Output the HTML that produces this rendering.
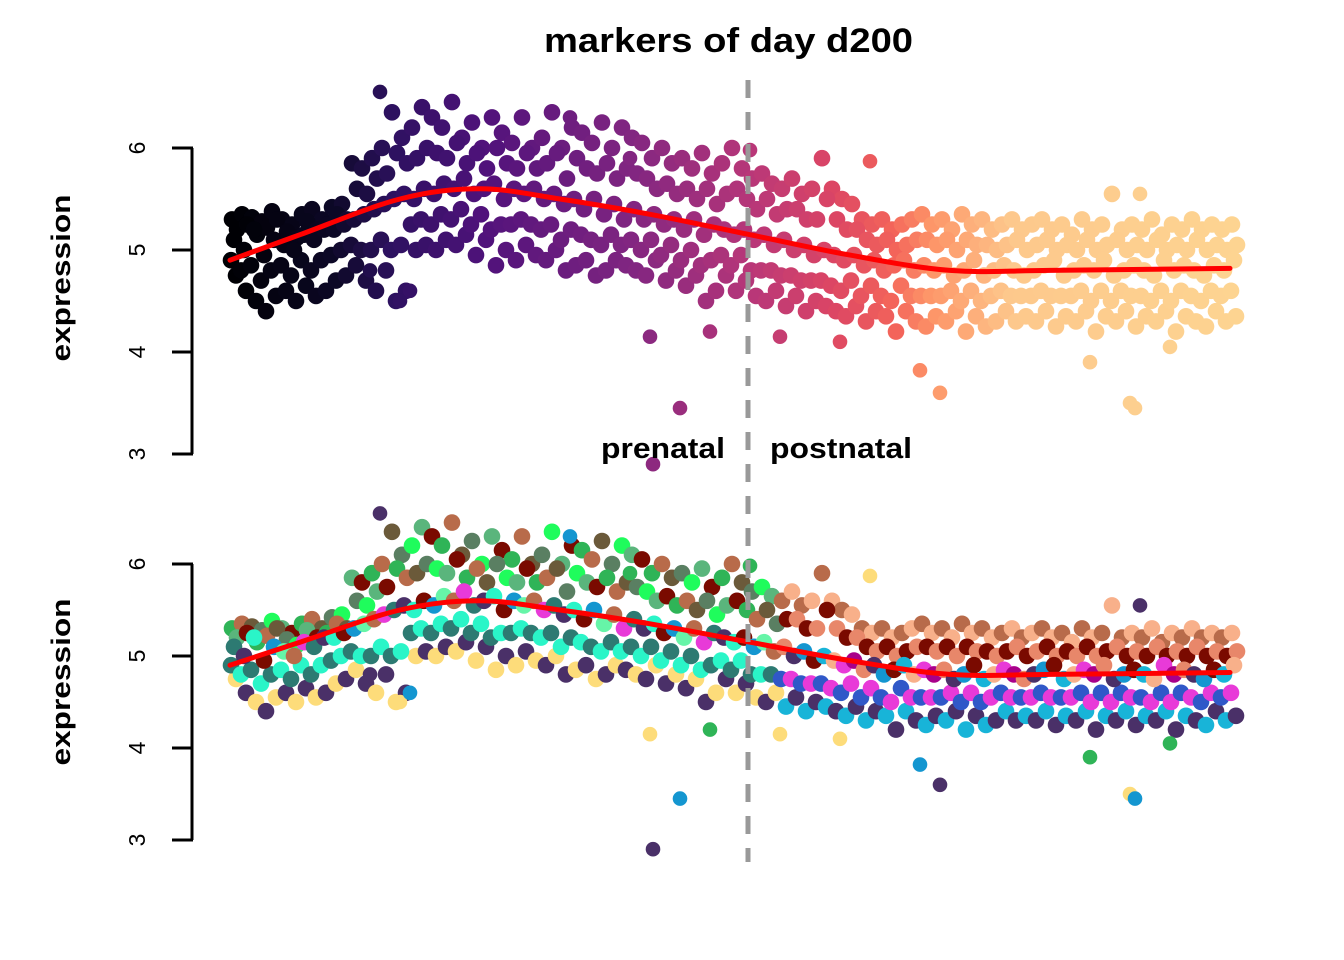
<!DOCTYPE html>
<html><head><meta charset="utf-8"><style>
html,body{margin:0;padding:0;background:#fff;}
svg{display:block;font-family:"Liberation Sans",Arial,sans-serif;}
</style></head><body>
<svg id="chart" width="1344" height="960"></svg>
<script>
const tHi=[5.3,5.35,5.32,5.28,5.38,5.3,5.25,5.35,5.4,5.3,5.42,5.45,5.85,5.8,5.9,6.0,6.35,6.1,6.2,6.4,6.3,6.2,6.45,6.1,6.25,6.0,6.3,6.15,6.05,6.3,6.0,6.1,6.35,6.0,6.2,6.15,6.05,6.25,6.0,6.2,6.1,6.05,5.9,6.0,5.85,5.9,5.8,5.95,5.75,5.85,6.0,5.8,5.7,5.75,5.65,5.6,5.7,5.55,5.6,5.9,5.6,5.5,5.45,5.3,5.25,5.3,5.2,5.25,5.3,5.35,5.25,5.3,5.2,5.35,5.25,5.3,5.2,5.25,5.3,5.2,5.25,5.3,5.2,5.25,5.15,5.3,5.2,5.25,5.55,5.2,5.25,5.2,5.3,5.15,5.25,5.2,5.3,5.2,5.25,5.2,5.25];
const tUm=[5.2,5.25,5.15,5.22,5.3,5.18,5.12,5.28,5.2,5.25,5.35,5.3,5.6,5.55,5.7,5.75,5.95,5.85,5.9,6.0,5.95,5.9,6.05,5.85,5.95,5.8,6.0,5.85,5.8,5.95,5.8,5.85,5.95,5.7,5.9,5.8,5.75,5.85,5.7,5.8,5.75,5.7,5.6,5.65,5.55,5.6,5.5,5.6,5.45,5.55,5.6,5.5,5.4,5.5,5.35,5.4,5.4,5.3,5.3,5.5,5.3,5.2,5.2,5.1,5.05,5.1,5.0,5.05,5.1,5.1,5.05,5.1,5.0,5.1,5.05,5.05,5.0,5.05,5.1,5.0,5.05,5.1,5.0,5.05,5.0,5.1,5.0,5.05,5.1,5.0,5.05,5.0,5.1,5.0,5.05,5.0,5.1,5.0,5.05,5.0,5.05];
const tMid=[5.1,5.0,5.2,4.95,5.1,5.05,5.0,5.15,5.1,5.2,5.2,5.25,5.3,5.35,5.4,5.45,5.5,5.55,5.5,5.6,5.55,5.65,5.6,5.7,5.55,5.6,5.65,5.5,5.6,5.55,5.6,5.5,5.55,5.45,5.5,5.4,5.5,5.35,5.45,5.3,5.4,5.3,5.35,5.25,5.3,5.2,5.3,5.15,5.25,5.2,5.15,5.2,5.1,5.15,5.05,5.1,5.0,5.05,4.95,5.0,4.95,4.9,4.95,4.85,4.9,4.8,4.85,4.9,4.8,4.85,4.8,4.85,4.75,4.8,4.9,4.75,4.8,4.85,4.8,4.75,4.8,4.85,4.9,4.75,4.8,4.85,4.8,4.9,4.75,4.8,4.85,4.8,4.75,4.9,4.8,4.85,4.8,4.75,4.85,4.8,4.9];
const tLm=[4.9,4.8,4.85,4.7,4.8,4.85,4.75,4.9,4.8,4.9,4.95,5.0,5.05,5.0,5.0,5.1,5.0,5.05,5.25,5.3,5.25,5.35,5.3,5.4,5.25,5.35,5.2,5.25,5.25,5.3,5.25,5.2,5.25,5.1,5.2,5.15,5.1,5.05,5.15,5.05,5.1,5.0,5.1,4.95,5.05,4.9,5.0,4.85,4.9,4.95,4.85,4.95,4.8,4.8,4.8,4.75,4.75,4.7,4.7,4.7,4.65,4.6,4.7,4.55,4.65,4.55,4.5,4.65,4.55,4.55,4.55,4.55,4.6,4.5,4.6,4.5,4.55,4.6,4.55,4.55,4.55,4.6,4.55,4.55,4.55,4.6,4.5,4.6,4.5,4.6,4.55,4.55,4.5,4.6,4.5,4.6,4.55,4.5,4.6,4.55,4.6];
const tLo=[4.75,4.6,4.5,4.4,4.55,4.6,4.5,4.65,4.55,4.6,4.7,4.75,4.85,4.7,4.6,4.8,4.5,4.6,5.0,5.05,5.0,5.1,5.05,5.15,4.95,5.1,4.85,5.0,4.9,5.05,4.95,4.9,5.0,4.8,4.85,4.9,4.75,4.8,4.9,4.85,4.8,4.75,4.9,4.7,4.8,4.65,4.75,4.5,4.6,4.75,4.6,4.7,4.55,4.5,4.6,4.45,4.55,4.4,4.5,4.45,4.4,4.35,4.45,4.3,4.4,4.35,4.2,4.4,4.3,4.25,4.35,4.3,4.4,4.2,4.35,4.25,4.3,4.4,4.3,4.35,4.3,4.4,4.25,4.35,4.3,4.4,4.2,4.35,4.3,4.4,4.25,4.35,4.3,4.4,4.2,4.35,4.3,4.25,4.4,4.3,4.35];
const outT=[42,45,42.3,48,55,69,71,86,90,90.5,91,94,17,18,14,52,64,34,15,40,61];
const outY=[4.15,3.45,2.9,4.2,4.15,3.82,3.6,3.9,3.5,3.45,5.55,4.05,4.5,4.6,4.8,5.98,5.87,6.3,6.55,5.9,4.1];
const curveT=[0,7,17,25,33,42,52,62,72,82,100];
const curveY=[4.9,5.15,5.5,5.6,5.5,5.35,5.15,4.95,4.8,4.8,4.82];
const yTicks=[3,4,5,6];

const NS="http://www.w3.org/2000/svg";
const svg=document.getElementById('chart');
function mk(tag,attrs,parent){const e=document.createElementNS(NS,tag);for(const k in attrs)e.setAttribute(k,attrs[k]);(parent||svg).appendChild(e);return e;}
const xS=t=>230+t*10;
const panels=[{y5:250,k:102,name:'top'},{y5:656,k:92,name:'bottom'}];
const magma=[[0,[0,0,4]],[10,[12,8,38]],[16,[45,17,96]],[25,[80,18,123]],[40,[130,38,129]],[52,[185,55,120]],[60,[220,70,100]],[66,[243,100,90]],[70,[253,150,105]],[78,[253,200,140]],[100,[253,212,145]]];
function mag(t){for(let i=1;i<magma.length;i++){if(t<=magma[i][0]){const a=magma[i-1],b=magma[i];const f=(t-a[0])/(b[0]-a[0]);const c=a[1].map((v,j)=>Math.round(v+(b[1][j]-v)*f));return `rgb(${c})`;}}return 'rgb(253,212,145)';}
const palHiE=['#2fb457','#5ab57c','#5a7f62','#b86b4a','#7a0a00','#1ffc5c','#6b5a3a'];
const palMidE=['#2af5c8','#66f5a8','#2d7a72','#7a0a00','#b86b4a','#4a3068','#1496d0','#e83ad8'];
const palLoE=['#2af5c8','#4a3068','#1496d0','#2d7a72','#fddc7a','#66f5a8'];
const palHiL=['#f8b08a','#e8876a','#f3c29a','#b86b4a','#7a0a00','#e8876a'];
const palMidL=['#7a0a00','#e83ad8','#4a3068','#18b4d8','#a8008a','#1496d0','#f8b08a','#e8876a'];
const palLoL=['#3058c8','#18b4d8','#1496d0','#e83ad8','#4a3068','#2d7a72'];
function cat(band,i,t){const early=t<55;const p=band<=1?(early?palHiE:palHiL):band===2?(early?palMidE:palMidL):(early?palLoE:palLoL);return p[(i*3+band)%p.length];}

panels.forEach((P,pi)=>{
  const yS=v=>P.y5-(v-5)*P.k;
  const g=mk('g',{});
  
  
  const pts=mk('g',{},g);
  
  
  const bands=[[tLo,4,0.6],[tHi,0,0.2],[tLm,3,0.1],[tUm,1,0.7],[tMid,2,0.4]];
  bands.forEach(([arr,band,off])=>{
    arr.forEach((v,i)=>{
      const c=mk('circle',{cx:xS(i+off),cy:yS(v),r:8.3,fill:pi===0?mag(i):cat(band,i,i)},pts);
      
      
    });
  });
  outT.forEach((t,i)=>{
    const c=mk('circle',{cx:xS(t),cy:yS(outY[i]),r:7.3,fill:pi===0?mag(t):['#fddc7a','#1496d0','#4a3068','#2fb457'][i%4]},pts);
    
    
  });
  let d='M'+xS(curveT[0])+','+yS(curveY[0]);
  for(let i=0;i<curveT.length-1;i++){
    const a=Math.max(0,i-1),b=Math.min(curveT.length-1,i+2);
    const p0=[xS(curveT[a]),yS(curveY[a])],p1=[xS(curveT[i]),yS(curveY[i])],p2=[xS(curveT[i+1]),yS(curveY[i+1])],p3=[xS(curveT[b]),yS(curveY[b])];
    d+=`C${p1[0]+(p2[0]-p0[0])/6},${p1[1]+(p2[1]-p0[1])/6} ${p2[0]-(p3[0]-p1[0])/6},${p2[1]-(p3[1]-p1[1])/6} ${p2[0]},${p2[1]}`;
  }
  const cv=mk('path',{d:d,stroke:'#ff0000','stroke-width':5,fill:'none','stroke-linecap':'round'},g);
  
  
  const ax=mk('g',{},g);
  
  
  mk('line',{x1:192,x2:192,y1:yS(6),y2:yS(3),stroke:'#000','stroke-width':3},ax);
  yTicks.forEach(v=>{
    mk('line',{x1:172,x2:193,y1:yS(v),y2:yS(v),stroke:'#000','stroke-width':3},ax);
    const tx=mk('text',{x:0,y:0,transform:`translate(145,${yS(v)}) rotate(-90)`,'text-anchor':'middle','font-size':23},ax);
    tx.textContent=v;
    
    
  });
  const yl=mk('text',{transform:`translate(70,${pi===0?278:682}) rotate(-90)`,'text-anchor':'middle','font-size':27,'font-weight':'bold',textLength:167,lengthAdjust:'spacingAndGlyphs'},g);
  yl.textContent='expression';
  
  
});
const dl=mk('line',{x1:748,x2:748,y1:80,y2:862,stroke:'#999','stroke-width':5,'stroke-dasharray':'18,14'});


const ti=mk('text',{x:544,y:52,'font-size':34,'font-weight':'bold',textLength:369,lengthAdjust:'spacingAndGlyphs'});
ti.textContent='markers of day d200';


const pre=mk('text',{x:601,y:458,'font-size':29,'font-weight':'bold',textLength:124,lengthAdjust:'spacingAndGlyphs'});
pre.textContent='prenatal';


const post=mk('text',{x:770,y:458,'font-size':29,'font-weight':'bold',textLength:142,lengthAdjust:'spacingAndGlyphs'});
post.textContent='postnatal';


</script>
</body></html>
